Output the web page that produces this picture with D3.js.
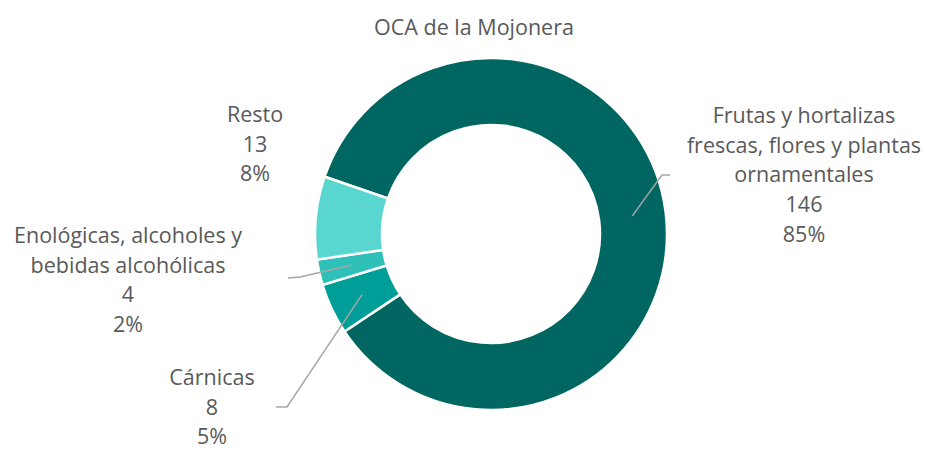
<!DOCTYPE html>
<html>
<head>
<meta charset="utf-8">
<script src="https://cdn.jsdelivr.net/npm/d3@7"></script>
<style>
  body { margin: 0; background: #fff; }
  svg { display: block; font-family: "Open Sans", sans-serif; }
</style>
</head>
<body>
<svg width="925" height="449"></svg>
<script>
// data, clockwise from the Frutas slice
const categories = ['Frutas y hortalizas frescas, flores y plantas ornamentales',
                    'Cárnicas',
                    'Enológicas, alcoholes y bebidas alcohólicas',
                    'Resto'];
const values = [146, 8, 4, 13];
const percents = ['85%', '5%', '2%', '8%'];
// label text broken into lines like the original
const labelLines = [['Frutas y hortalizas', 'frescas, flores y plantas', 'ornamentales'],
                    ['Cárnicas'],
                    ['Enológicas, alcoholes y', 'bebidas alcohólicas'],
                    ['Resto']];
const colors = ['#006661', '#009e98', '#2fc0ba', '#5ad6d1'];

// layout: where each label block sits and where its leader line bends
const labelPos = [{x: 804, y: 123, elbow: [662, 175], end: [670, 175]},
                  {x: 212, y: 385, elbow: [287, 407], end: [276, 407]},
                  {x: 128, y: 243, elbow: [300, 277], end: [288, 278]},
                  {x: 255, y: 122, elbow: null, end: null}];

const CX = 491, CY = 234, R_OUT = 176, R_IN = 109;
const LINE_H = 29.7;
const FONT = 21.5;

function main(){
    let svg = d3.select('svg');

    svg.append('text').attr('x', 474).attr('y', 35)
       .attr('text-anchor', 'middle').attr('font-size', 21.5)
       .attr('fill', '#595959').text('OCA de la Mojonera');

    let pie = d3.pie().sort(null)
                .startAngle(-71 * Math.PI / 180)
                .endAngle(289 * Math.PI / 180);
    let arcs = pie(values);
    let arc = d3.arc().innerRadius(R_IN).outerRadius(R_OUT);

    let g = svg.append('g').attr('transform', `translate(${CX},${CY})`);
    g.selectAll('path').data(arcs).enter().append('path')
     .attr('d', arc)
     .attr('fill', (d, i) => colors[i])
     .attr('stroke', '#fff').attr('stroke-width', 2.5);

    // leader lines from slice centroid
    arcs.forEach((d, i) => {
        let p = labelPos[i];
        if (!p.elbow) return;
        let c = arc.centroid(d);
        let pts = [[c[0] + CX, c[1] + CY], p.elbow, p.end];
        svg.append('path').attr('d', d3.line()(pts))
           .attr('fill', 'none').attr('stroke', '#a6a6a6').attr('stroke-width', 1.5);
    });

    // labels
    categories.forEach((c, i) => {
        let lines = labelLines[i].concat([String(values[i]), percents[i]]);
        let t = svg.append('text').attr('text-anchor', 'middle')
                   .attr('font-size', FONT).attr('fill', '#595959');
        lines.forEach((s, k) => {
            t.append('tspan').attr('x', labelPos[i].x)
             .attr('y', labelPos[i].y + k * LINE_H).text(s);
        });
    });
}
main();
</script>
</body>
</html>
